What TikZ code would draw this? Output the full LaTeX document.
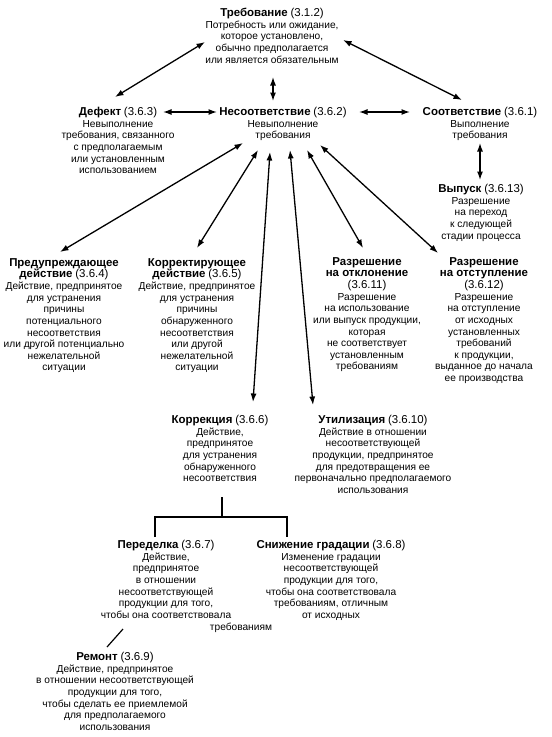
\documentclass[tikz,border=0pt]{standalone}
\usepackage{fontspec}
\setmainfont{Liberation Sans}
\usetikzlibrary{arrows.meta}
\newcommand\myhd[1]{{\fontsize{11.5}{11.7}\selectfont\bfseries #1}}
\newcommand\mynum[1]{{\fontsize{11.5}{11.7}\selectfont #1}}
\begin{document}
\begin{tikzpicture}[x=1bp,y=-1bp,
  lbl/.style={align=center,anchor=north,inner sep=0pt,font=\fontsize{10.2}{11.7}\selectfont},
  dbl/.style={line width=1.3bp,{Latex[length=8.5bp,width=6bp]}-{Latex[length=8.5bp,width=6bp]}},
  plain/.style={line width=1.2bp}]
\useasboundingbox (0,0) rectangle (552,737);
\fill[white] (0,0) rectangle (552,737);

\node[lbl] (treb) at (272,8) {\myhd{Требование} \mynum{(3.1.2)}\\Потребность или ожидание,\\которое установлено,\\обычно предполагается\\или является обязательным};
\node[lbl] (defekt) at (118,107) {\myhd{Дефект} \mynum{(3.6.3)}\\Невыполнение\\требования, связанного\\с предполагаемым\\или установленным\\использованием};
\node[lbl] (nesoot) at (283,107) {\myhd{Несоответствие} \mynum{(3.6.2)}\\Невыполнение\\требования};
\node[lbl] (soot) at (480,107) {\myhd{Соответствие} \mynum{(3.6.1)}\\Выполнение\\требования};
\node[lbl] (vypusk) at (481,184) {\myhd{Выпуск} \mynum{(3.6.13)}\\Разрешение\\на переход\\к следующей\\стадии процесса};
\node[lbl] (predupr) at (64,258) {\myhd{Предупреждающее}\\\myhd{действие} \mynum{(3.6.4)}\\Действие, предпринятое\\для устранения\\причины\\потенциального\\несоответствия\\или другой потенциально\\нежелательной\\ситуации};
\node[lbl] (korrekt) at (197,258) {\myhd{Корректирующее}\\\myhd{действие} \mynum{(3.6.5)}\\Действие, предпринятое\\для устранения\\причины\\обнаруженного\\несоответствия\\или другой\\нежелательной\\ситуации};
\node[lbl] (otklon) at (367,257) {\myhd{Разрешение}\\\myhd{на отклонение}\\\mynum{(3.6.11)}\\Разрешение\\на использование\\или выпуск продукции,\\которая\\не соответствует\\установленным\\требованиям};
\node[lbl] (otstup) at (484,257) {\myhd{Разрешение}\\\myhd{на отступление}\\\mynum{(3.6.12)}\\Разрешение\\на отступление\\от исходных\\установленных\\требований\\к продукции,\\выданное до начала\\ее производства};
\node[lbl] (korrekciya) at (220,415) {\myhd{Коррекция} \mynum{(3.6.6)}\\Действие,\\предпринятое\\для устранения\\обнаруженного\\несоответствия};
\node[lbl] (utiliz) at (373,415) {\myhd{Утилизация} \mynum{(3.6.10)}\\Действие в отношении\\несоответствующей\\продукции, предпринятое\\для предотвращения ее\\первоначально предполагаемого\\использования};
\node[lbl] (peredelka) at (166,540) {\myhd{Переделка} \mynum{(3.6.7)}\\Действие,\\предпринятое\\в отношении\\несоответствующей\\продукции для того,\\чтобы она соответствовала\\\makebox[0pt]{\hspace*{150bp}требованиям}};
\node[lbl] (snizhenie) at (331,540) {\myhd{Снижение градации} \mynum{(3.6.8)}\\Изменение градации\\несоответствующей\\продукции для того,\\чтобы она соответствовала\\требованиям, отличным\\от исходных};
\node[lbl] (remont) at (115,652) {\myhd{Ремонт} \mynum{(3.6.9)}\\Действие, предпринятое\\в отношении несоответствующей\\продукции для того,\\чтобы сделать ее приемлемой\\для предполагаемого\\использования};

% double arrows
\draw[dbl] ([shift={(-67,34)}]treb.north) -- ([shift={(-3,-10)}]defekt.north);
\draw[dbl] ([shift={(71,32)}]treb.north) -- ([shift={(-18,-7)}]soot.north);
\draw[dbl] ([shift={(1,69)}]treb.north) -- ([shift={(-10,-6)}]nesoot.north);
\draw[dbl] ([shift={(45,5)}]defekt.north) -- ([shift={(-66,5)}]nesoot.north);
\draw[dbl] ([shift={(76,5)}]nesoot.north) -- ([shift={(-70,5)}]soot.north);
\draw[dbl] ([shift={(0,36)}]soot.north) -- ([shift={(-1,-4)}]vypusk.north);
\draw[dbl] ([shift={(-40,36)}]nesoot.north) -- ([shift={(-4,-6)}]predupr.north);
\draw[dbl] ([shift={(-25,43)}]nesoot.north) -- ([shift={(0,-10)}]korrekt.north);
\draw[dbl] ([shift={(-13,45)}]nesoot.north) -- ([shift={(33,-13)}]korrekciya.north);
\draw[dbl] ([shift={(7,43)}]nesoot.north) -- ([shift={(-60,-10)}]utiliz.north);
\draw[dbl] ([shift={(24,43)}]nesoot.north) -- ([shift={(-4,-9)}]otklon.north);
\draw[dbl] ([shift={(37,38)}]nesoot.north) -- ([shift={(-46,-4)}]otstup.north);

% tree lines
\draw[plain] ([shift={(2,82)}]korrekciya.north) -- ++(0,20) coordinate (j);
\draw[plain] ([shift={(-11,-3)}]peredelka.north) |- (j) -| ([shift={(-44,-3)}]snizhenie.north);
\draw[plain] ([shift={(-43,89)}]peredelka.north) -- ([shift={(-8,-5)}]remont.north);
\end{tikzpicture}
\end{document}
